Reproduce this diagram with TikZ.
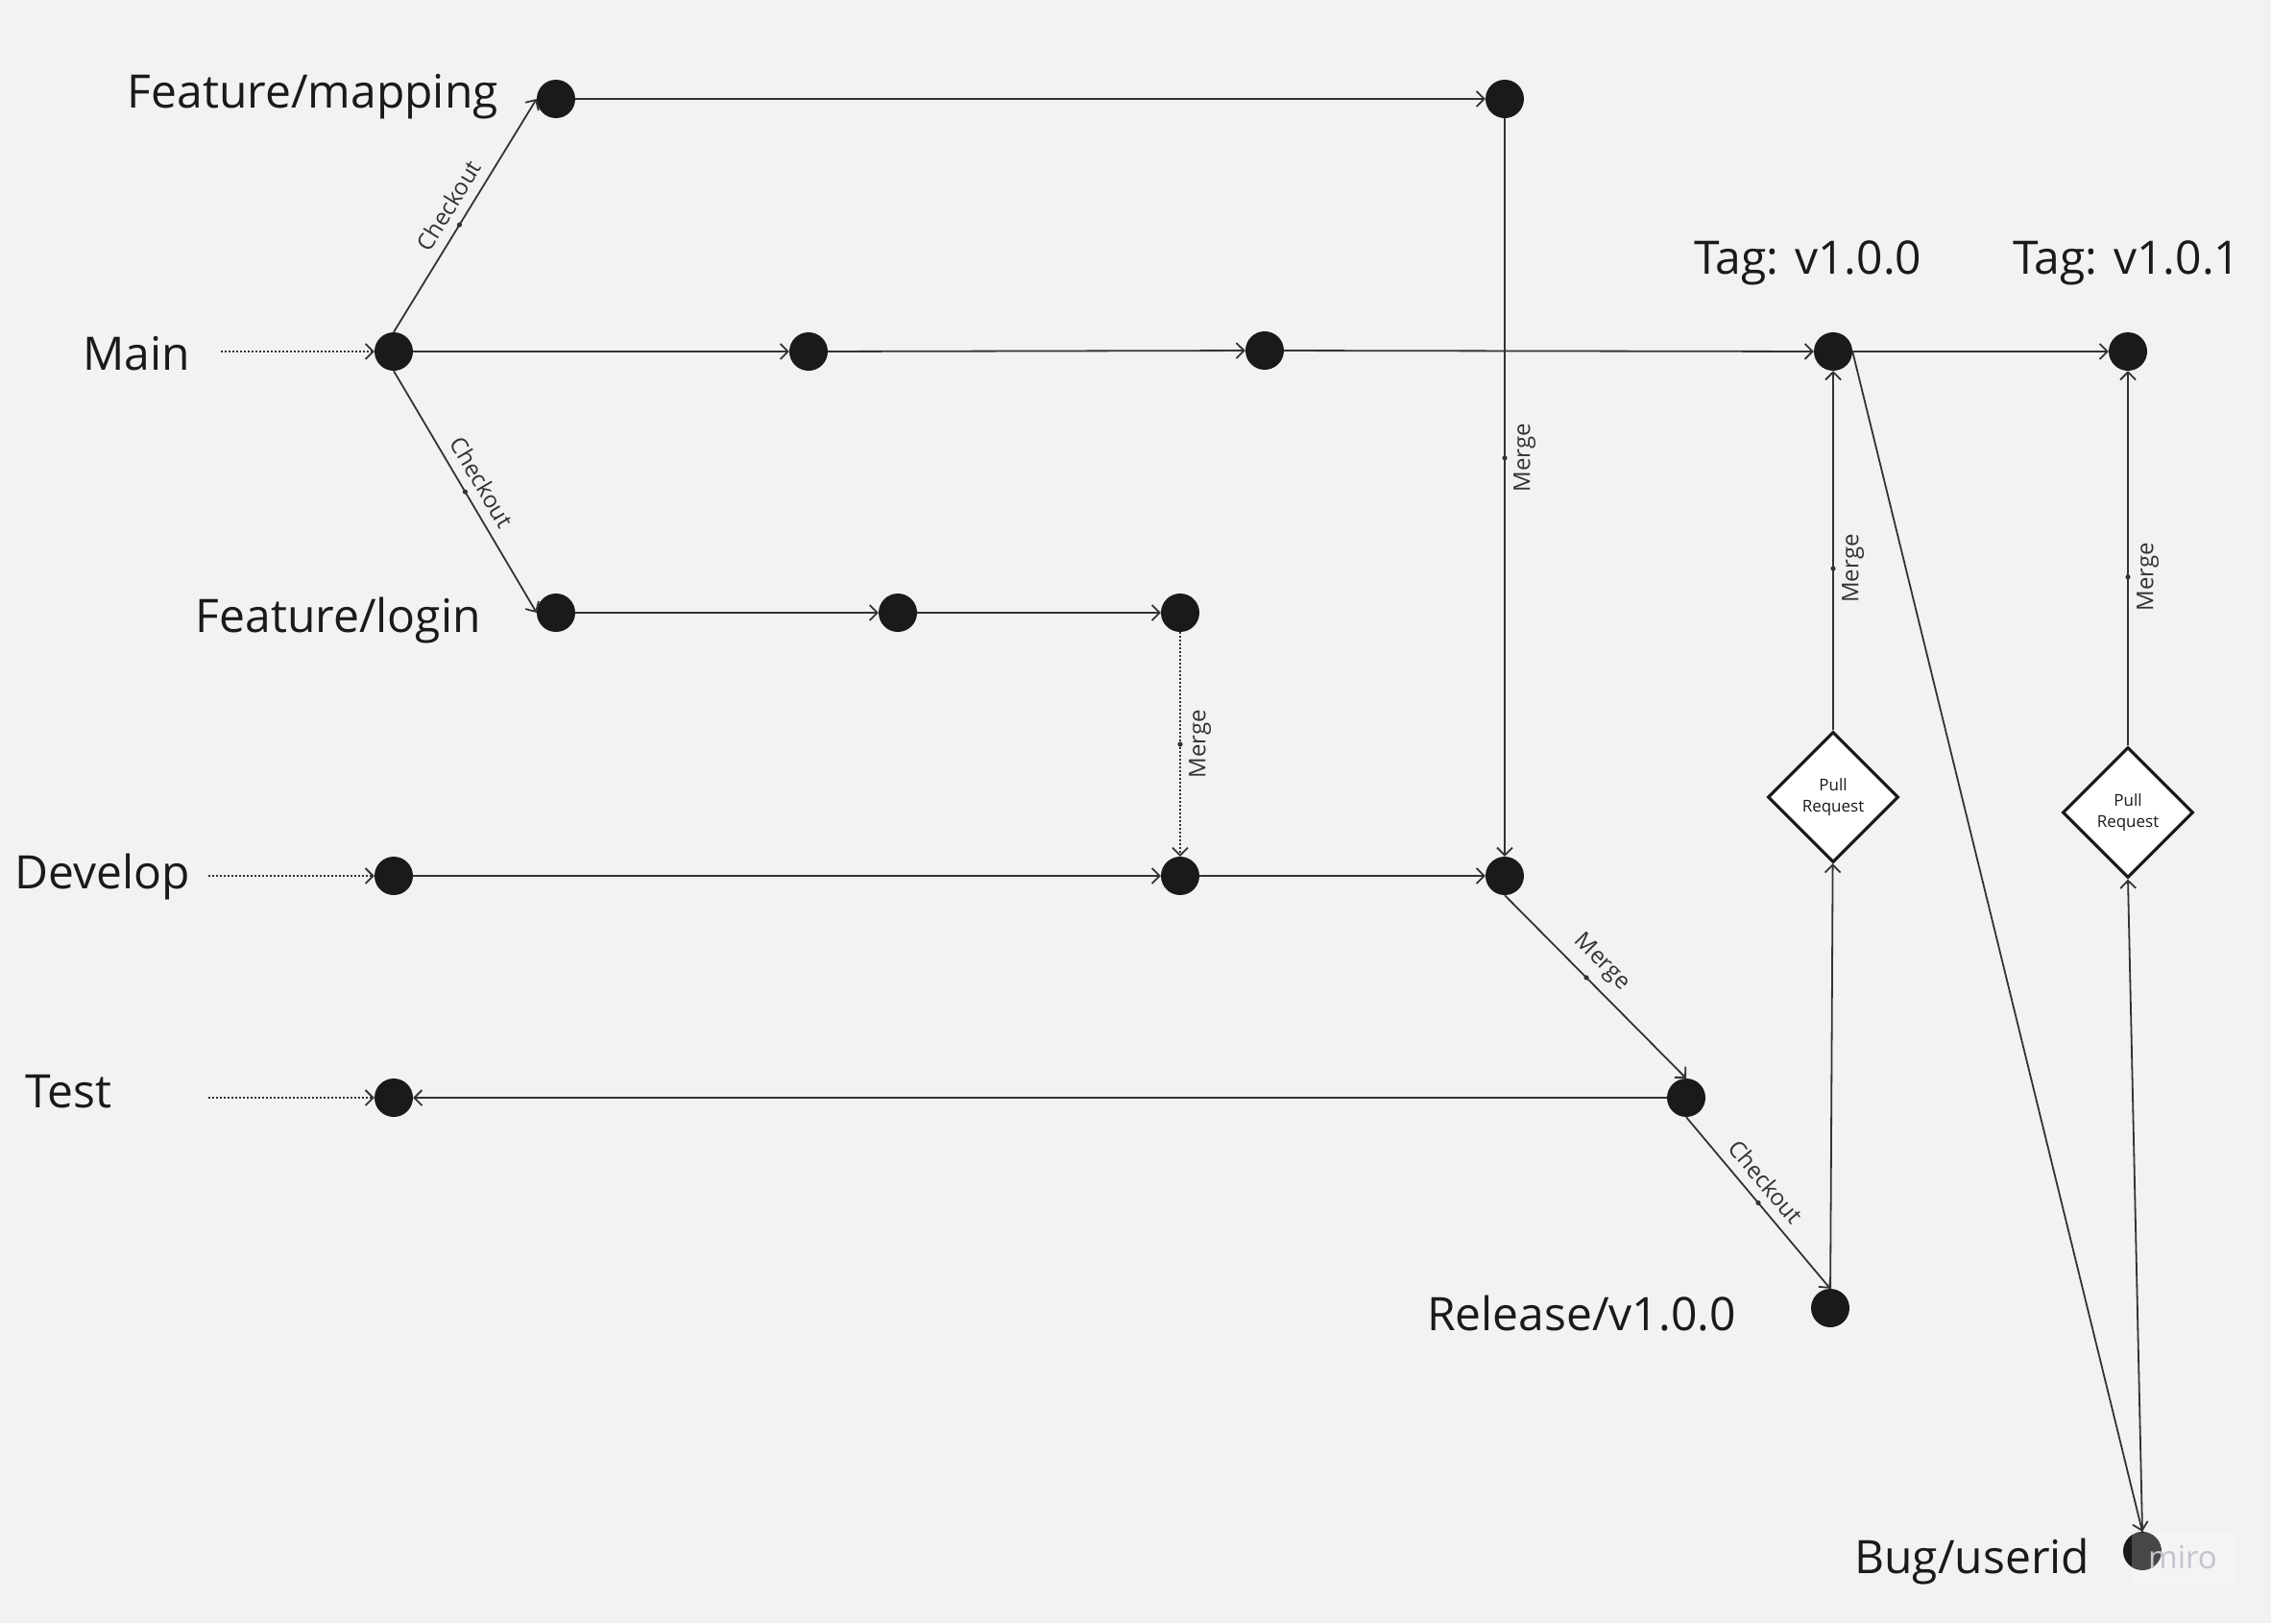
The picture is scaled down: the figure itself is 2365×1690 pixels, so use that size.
\documentclass[tikz,border=0pt]{standalone}
\usepackage{fontspec}
\setmainfont{Open Sans}
\usetikzlibrary{arrows.meta,shapes.geometric}
\definecolor{bg}{HTML}{F2F2F2}
\definecolor{ink}{HTML}{1A1A1A}
\definecolor{ln}{HTML}{333333}
\definecolor{wm}{HTML}{C4C3CE}
\begin{document}
\begin{tikzpicture}[x=1pt,y=-1pt,
  commit/.style={circle,fill=ink,draw=none,minimum size=40pt,inner sep=0pt},
  branch/.style={font=\fontsize{48}{58}\selectfont,text=ink,inner sep=0pt},
  conn/.style={draw=ln,line width=1.8pt,-{Straight Barb[length=8pt,width=16pt,line width=1.8pt]}},
  feed/.style={conn,dash pattern=on 1.8pt off 2.2pt},
  lbl/.style={font=\fontsize{24}{28}\selectfont,text=ln,inner sep=0pt},
  slbl/.style={lbl,above=10pt,sloped},
  vlbl/.style={lbl,rotate=90,anchor=north},
  pr/.style={diamond,draw=ink,line width=3.2pt,fill=white,minimum width=136pt,minimum height=136pt,inner sep=0pt,aspect=1,font=\fontsize{17}{22}\selectfont,align=center,text=ink},
]
\fill[bg] (0,0) rectangle (2365,1690);
\useasboundingbox (0,0) rectangle (2365,1690);

% commits
\node[commit] (fm1) at (579,103) {};
\node[commit] (fm2) at (1567,103) {};
\node[commit] (m1) at (410,366) {};
\node[commit] (m2) at (842,366) {};
\node[commit] (m3) at (1317,365) {};
\node[commit] (t1) at (1909,366) {};
\node[commit] (t2) at (2216,366) {};
\node[commit] (fl1) at (579,638) {};
\node[commit] (fl2) at (935,638) {};
\node[commit] (fl3) at (1229,638) {};
\node[commit] (d1) at (410,912) {};
\node[commit] (d2) at (1229,912) {};
\node[commit] (d3) at (1567,912) {};
\node[commit] (ts1) at (410,1143) {};
\node[commit] (ts2) at (1756,1143) {};
\node[commit] (rel) at (1906,1362) {};
\node[commit] (bug) at (2231,1615) {};
\node[pr] (pr1) at (1909,830) {Pull\\Request};
\node[pr] (pr2) at (2216,846) {Pull\\Request};

% branch names
\node[branch,anchor=base east] (lfm) at (519,112) {Feature/mapping};
\node[branch,anchor=base west] (lmain) at (86,385) {Main};
\node[branch,anchor=base east] (lfl) at (501,658) {Feature/login};
\node[branch,anchor=base west] (ldev) at (15,925) {Develop};
\node[branch,anchor=base west] (ltest) at (26,1153) {Test};
\node[branch,anchor=base west] (ltag1) at (1764,285) {Tag: v1.0.0};
\node[branch,anchor=base west] (ltag2) at (2096,285) {Tag: v1.0.1};
\node[branch,anchor=base east] (lrel) at (1808,1385) {Release/v1.0.0};
\node[branch,anchor=base west] (lbug) at (1931,1638) {Bug/userid};

% entry points
\coordinate (mainin) at (230,366);
\coordinate (devin) at (217,912);
\coordinate (testin) at (217,1143);
\draw[feed] (mainin) -- (m1);
\draw[feed] (devin) -- (d1);
\draw[feed] (testin) -- (ts1);

% connectors
\draw[conn] (m1.north) -- coordinate[pos=0.46] (c1) node[slbl,pos=0.5] {Checkout} (fm1.west);
\draw[conn] (m1.south) -- coordinate[pos=0.5] (c2) node[slbl,pos=0.5] {Checkout} (fl1.west);
\draw[conn] (fm1) -- (fm2);
\draw[conn] (m1) -- (m2);
\draw[conn] (m2) -- (m3);
\draw[conn] (m3) -- (t1);
\draw[conn] (t1) -- (t2);
\draw[conn] (fl1) -- (fl2);
\draw[conn] (fl2) -- (fl3);
\draw[conn] (d1) -- (d2);
\draw[conn] (d2) -- (d3);
\draw[conn] (fm2) -- coordinate[pos=0.46] (c3) (d3);
\node[vlbl] (lm3) at ([xshift=9pt]c3) {Merge};
\draw[feed] (fl3) -- coordinate[pos=0.5] (c4) (d2);
\node[vlbl] (lm4) at ([xshift=9pt]c4) {Merge};
\draw[conn] (d3.south) -- coordinate[pos=0.45] (c5) node[slbl,pos=0.45] {Merge} (ts2.north);
\draw[conn] (ts2) -- (ts1);
\draw[conn] (ts2.south) -- coordinate[pos=0.5] (c6) node[slbl,pos=0.45] {Checkout} (rel.north);
\draw[conn] (rel) -- (pr1);
\draw[conn] (pr1) -- coordinate[pos=0.45] (c7) (t1);
\node[vlbl] (lm7) at ([xshift=9pt]c7) {Merge};
\draw[conn] (t1.east) -- (bug.north);
\draw[conn] (bug.north) -- (pr2.south);
\draw[conn] (pr2) -- coordinate[pos=0.45] (c8) (t2);
\node[vlbl] (lm8) at ([xshift=9pt]c8) {Merge};

% label markers
\foreach \c in {c1,c2,c3,c4,c5,c6,c7,c8} \fill[ln] (\c) circle (2.6pt);

% watermark
\fill[white,opacity=0.2] (2220,1596) rectangle (2328,1651);
\node[font=\fontsize{33}{38}\selectfont,text=wm,inner sep=0pt] (wmk) at (2273,1622) {miro};
\end{tikzpicture}
\end{document}
